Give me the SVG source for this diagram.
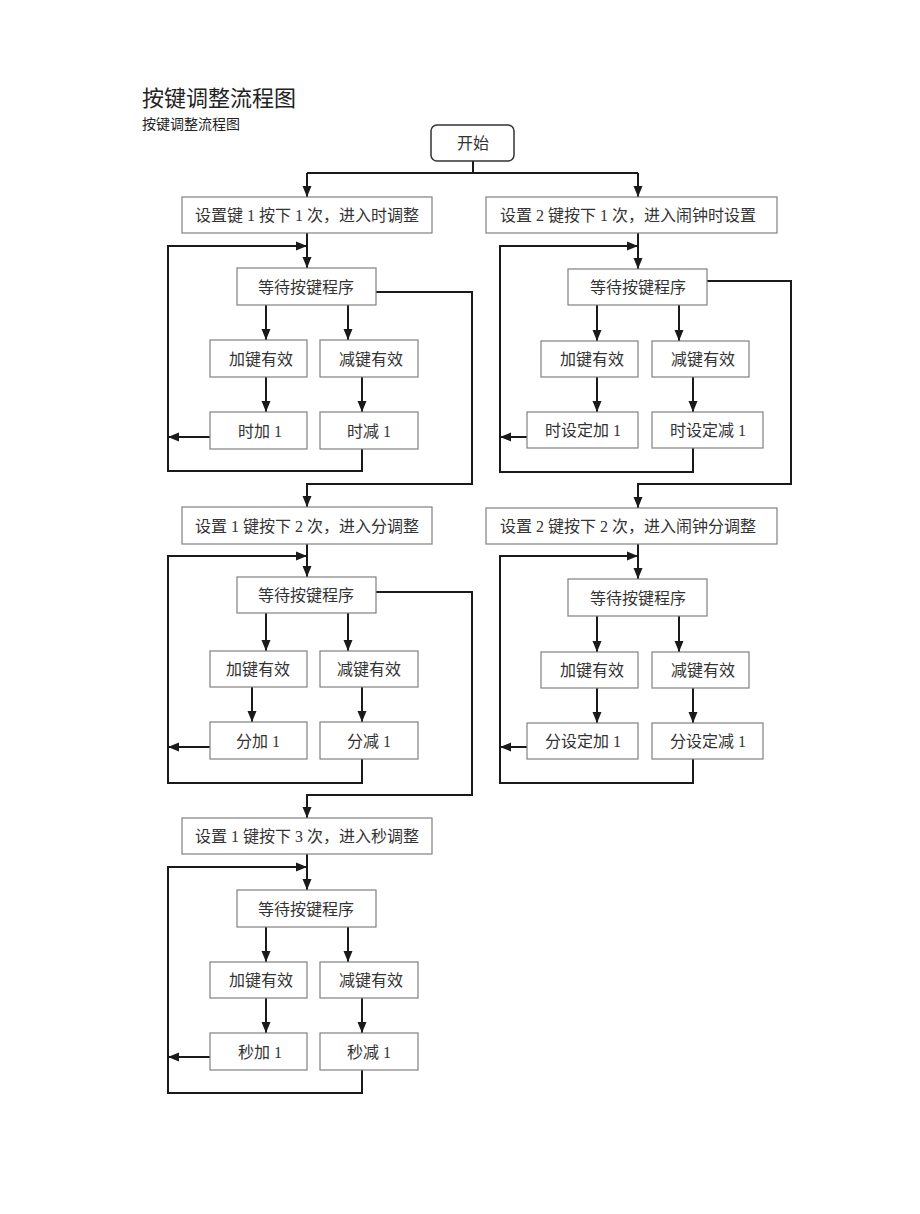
<svg xmlns="http://www.w3.org/2000/svg" width="920" height="1214" viewBox="0 0 920 1214">
<style>
.t{font-family:"Liberation Serif","Noto Sans CJK SC",serif;font-size:16px;fill:#333;text-anchor:middle}
.b{fill:#fff;stroke:#808080;stroke-width:1.2}
.c{fill:none;stroke:#1a1a1a;stroke-width:2}
.a{fill:none;stroke:#1a1a1a;stroke-width:2;marker-end:url(#ah)}
.h{font-family:"Liberation Serif","Noto Sans CJK SC",serif;fill:#222}
</style>
<defs>
<marker id="ah" markerUnits="userSpaceOnUse" markerWidth="12" markerHeight="10" refX="11" refY="5" orient="auto">
<path d="M0,0.5 L11,5 L0,9.5 z" fill="#1a1a1a"/>
</marker>
</defs>
<rect width="920" height="1214" fill="#fff"/>
<text class="h" x="142" y="106" font-size="22">按键调整流程图</text>
<text class="h" x="142" y="129" font-size="14">按键调整流程图</text>

<g id="connectors">
<path class="c" d="M473,161 V173"/>
<path class="c" d="M307,173 H638"/>
<path class="a" d="M307,173 V197"/>
<path class="a" d="M638,173 V197"/>
<!-- L1 -->
<path class="a" d="M307,233 V268"/>
<path class="a" d="M362,449 V471 H168 V246 H307"/>
<path class="a" d="M210,437 H168"/>
<path class="a" d="M266,305 V340"/>
<path class="a" d="M348,305 V340"/>
<path class="a" d="M266,377 V412"/>
<path class="a" d="M362,377 V412"/>
<path class="a" d="M376,292 H472 V484 H307 V507"/>
<!-- L2 -->
<path class="a" d="M307,544 V577"/>
<path class="a" d="M362,759 V783 H168 V556 H307"/>
<path class="a" d="M210,747 H168"/>
<path class="a" d="M266,613 V651"/>
<path class="a" d="M348,613 V651"/>
<path class="a" d="M252,687 V722"/>
<path class="a" d="M362,687 V722"/>
<path class="a" d="M376,592 H472 V795 H307 V818"/>
<!-- L3 -->
<path class="a" d="M307,854 V890"/>
<path class="a" d="M362,1070 V1093 H168 V867 H307"/>
<path class="a" d="M210,1057 H168"/>
<path class="a" d="M266,927 V962"/>
<path class="a" d="M348,927 V962"/>
<path class="a" d="M266,998 V1033"/>
<path class="a" d="M362,998 V1033"/>
<!-- R1 -->
<path class="a" d="M638,233 V269"/>
<path class="a" d="M693,448 V472 H500 V246 H638"/>
<path class="a" d="M527,437 H500"/>
<path class="a" d="M597,305 V341"/>
<path class="a" d="M679,305 V341"/>
<path class="a" d="M597,377 V412"/>
<path class="a" d="M693,377 V412"/>
<path class="a" d="M707,281 H791 V484 H638 V508"/>
<!-- R2 -->
<path class="a" d="M638,544 V579"/>
<path class="a" d="M693,759 V783 H500 V556 H638"/>
<path class="a" d="M527,747 H500"/>
<path class="a" d="M597,616 V652"/>
<path class="a" d="M679,616 V652"/>
<path class="a" d="M597,688 V723"/>
<path class="a" d="M693,688 V723"/>
</g>

<g id="start"><rect x="431" y="125" width="83" height="36" rx="6" fill="#fff" stroke="#333" stroke-width="1.5"/><text class="t" x="473" y="149">开始</text></g>

<g id="set1"><rect class="b" x="182" y="197" width="250" height="36"/><text class="t" x="307" y="221">设置键 1 按下 1 次，进入时调整</text></g>
<g id="wait1"><rect class="b" x="237" y="268" width="139" height="37"/><text class="t" x="306" y="293">等待按键程序</text></g>
<g id="add1"><rect class="b" x="210" y="340" width="97" height="37"/><text class="t" x="261" y="365">加键有效</text></g>
<g id="sub1"><rect class="b" x="320" y="340" width="98" height="37"/><text class="t" x="371" y="365">减键有效</text></g>
<g id="hadd"><rect class="b" x="210" y="412" width="97" height="37"/><text class="t" x="260" y="437">时加 1</text></g>
<g id="hsub"><rect class="b" x="320" y="412" width="98" height="37"/><text class="t" x="369" y="437">时减 1</text></g>

<g id="set2"><rect class="b" x="182" y="507" width="250" height="37"/><text class="t" x="307" y="532">设置 1 键按下 2 次，进入分调整</text></g>
<g id="wait2"><rect class="b" x="237" y="577" width="139" height="36"/><text class="t" x="306" y="601">等待按键程序</text></g>
<g id="add2"><rect class="b" x="210" y="651" width="97" height="36"/><text class="t" x="258" y="675">加键有效</text></g>
<g id="sub2"><rect class="b" x="320" y="651" width="98" height="36"/><text class="t" x="369" y="675">减键有效</text></g>
<g id="madd"><rect class="b" x="210" y="722" width="97" height="37"/><text class="t" x="258" y="747">分加 1</text></g>
<g id="msub"><rect class="b" x="320" y="722" width="98" height="37"/><text class="t" x="369" y="747">分减 1</text></g>

<g id="set3"><rect class="b" x="182" y="818" width="250" height="36"/><text class="t" x="307" y="842">设置 1 键按下 3 次，进入秒调整</text></g>
<g id="wait3"><rect class="b" x="237" y="890" width="139" height="37"/><text class="t" x="306" y="915">等待按键程序</text></g>
<g id="add3"><rect class="b" x="210" y="962" width="97" height="36"/><text class="t" x="261" y="986">加键有效</text></g>
<g id="sub3"><rect class="b" x="320" y="962" width="98" height="36"/><text class="t" x="371" y="986">减键有效</text></g>
<g id="sadd"><rect class="b" x="210" y="1033" width="97" height="37"/><text class="t" x="260" y="1058">秒加 1</text></g>
<g id="ssub"><rect class="b" x="320" y="1033" width="98" height="37"/><text class="t" x="369" y="1058">秒减 1</text></g>

<g id="aset1"><rect class="b" x="486" y="197" width="291" height="36"/><text class="t" x="628" y="221">设置 2 键按下 1 次，进入闹钟时设置</text></g>
<g id="await1"><rect class="b" x="568" y="269" width="139" height="36"/><text class="t" x="638" y="293">等待按键程序</text></g>
<g id="aadd1"><rect class="b" x="541" y="341" width="97" height="36"/><text class="t" x="592" y="365">加键有效</text></g>
<g id="asub1"><rect class="b" x="652" y="341" width="97" height="36"/><text class="t" x="703" y="365">减键有效</text></g>
<g id="ahadd"><rect class="b" x="527" y="412" width="111" height="36"/><text class="t" x="583" y="436">时设定加 1</text></g>
<g id="ahsub"><rect class="b" x="652" y="412" width="111" height="36"/><text class="t" x="708" y="436">时设定减 1</text></g>

<g id="aset2"><rect class="b" x="486" y="508" width="291" height="36"/><text class="t" x="628" y="532">设置 2 键按下 2 次，进入闹钟分调整</text></g>
<g id="await2"><rect class="b" x="568" y="579" width="139" height="37"/><text class="t" x="638" y="604">等待按键程序</text></g>
<g id="aadd2"><rect class="b" x="541" y="652" width="97" height="36"/><text class="t" x="592" y="676">加键有效</text></g>
<g id="asub2"><rect class="b" x="652" y="652" width="97" height="36"/><text class="t" x="703" y="676">减键有效</text></g>
<g id="amadd"><rect class="b" x="527" y="723" width="111" height="36"/><text class="t" x="583" y="747">分设定加 1</text></g>
<g id="amsub"><rect class="b" x="652" y="723" width="111" height="36"/><text class="t" x="708" y="747">分设定减 1</text></g>
</svg>
